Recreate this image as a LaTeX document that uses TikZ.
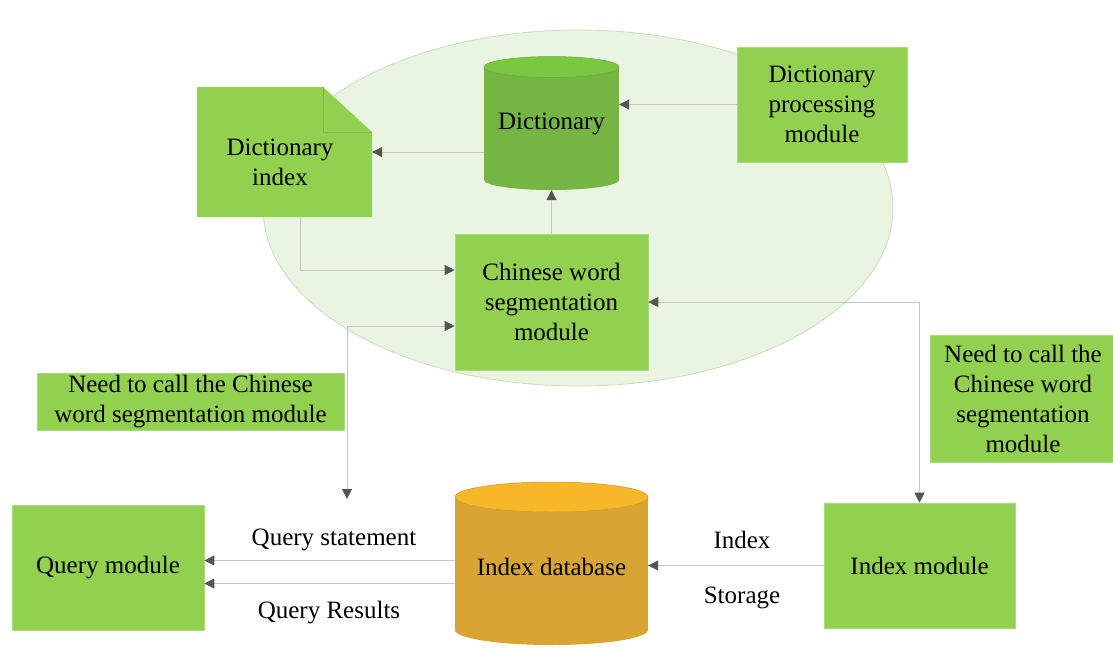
\documentclass[tikz,border=0pt]{standalone}
\usepackage{fontspec}
\setmainfont{Liberation Serif}
\usetikzlibrary{arrows.meta,shapes.geometric,calc}
\definecolor{boxgreen}{HTML}{92D050}
\definecolor{boxedge}{HTML}{A9DB7F}
\definecolor{dictbody}{HTML}{74B544}
\definecolor{dicttop}{HTML}{7CC742}
\definecolor{dictedge}{HTML}{6AA83E}
\definecolor{dbbody}{HTML}{D8A535}
\definecolor{dbtop}{HTML}{F6B828}
\definecolor{dbedge}{HTML}{D09A2A}
\definecolor{ellfill}{HTML}{EAF5E1}
\definecolor{ellborder}{HTML}{C8DEB8}
\definecolor{linegray}{HTML}{C4C4C4}
\definecolor{tipgray}{HTML}{555555}
\definecolor{foldline}{HTML}{7DBB48}
\begin{document}
\begin{tikzpicture}[x=1pt,y=-1pt,
  every node/.style={font=\fontsize{25}{30}\selectfont, align=center, inner sep=0pt},
  greenbox/.style={fill=boxgreen, draw=boxedge, line width=0.6pt},
  conn/.style={draw=linegray, line width=1pt, -{Triangle[length=10pt,width=10pt,color=tipgray]}},
  dconn/.style={draw=linegray, line width=1pt, {Triangle[length=10pt,width=10pt,color=tipgray]}-{Triangle[length=10pt,width=10pt,color=tipgray]}},
  lbl/.style={font=\fontsize{25}{30}\selectfont}
]
\useasboundingbox (0,0) rectangle (1113,648);
\fill[white] (0,0) rectangle (1113,648);

% background zone
\node[ellipse, minimum width=630pt, minimum height=356pt, fill=ellfill, draw=ellborder, line width=0.8pt] (zone) at (578,208) {};

% Dictionary cylinder
\fill[dictbody] (551.5,180) ellipse [x radius=67.5, y radius=10];
\fill[dictbody] (484,67) rectangle (619,180);
\filldraw[fill=dicttop, draw=dictedge, line width=0.5pt] (551.5,67) ellipse [x radius=67.5, y radius=10.5];
\node[minimum width=135pt, minimum height=133pt] (dict) at (551.5,123.5) {Dictionary};

% Dictionary index (folded corner)
\fill[boxgreen] (197,87) -- (323,87) -- (372,132) -- (372,217) -- (197,217) -- cycle;
\draw[foldline, line width=0.6pt] (323,87) -- (323,132) -- (372,132);
\node[minimum width=175pt, minimum height=130pt] (dindex) at (284.5,152) {};
\node at (280,162) (dindextext) {Dictionary\\index};

% Dictionary processing module
\node[greenbox, minimum width=170pt, minimum height=115pt] (dproc) at (822,104.5) {Dictionary\\processing\\module};

% Chinese word segmentation module
\node[greenbox, minimum width=193pt, minimum height=136pt] (cws) at (551.5,302) {Chinese word\\segmentation\\module};

% Labels (green)
\node[greenbox, minimum width=307pt, minimum height=57pt] (needl) at (190.5,401.5) {Need to call the Chinese\\word segmentation module};
\node[greenbox, minimum width=186pt, minimum height=127pt] (needr) at (1023,398.5) {Need to call the\\Chinese word\\segmentation\\module};

% Query module
\node[greenbox, minimum width=192pt, minimum height=125pt] (qmod) at (108,567.5) {Query module};

% Index module
\node[greenbox, minimum width=191pt, minimum height=125pt] (imod) at (919.5,565.5) {Index module};

% Index database cylinder
\fill[dbbody] (551.5,630) ellipse [x radius=96.5, y radius=15];
\fill[dbbody] (455,497) rectangle (648,630);
\filldraw[fill=dbtop, draw=dbedge, line width=0.5pt] (551.5,497) ellipse [x radius=96.5, y radius=15];
\node[minimum width=193pt, minimum height=163pt] (idb) at (551.5,563.5) {};
\node at (551.5,567) (idbtext) {Index database};

% connectors
\draw[conn] (dproc.west) -- (dproc.west -| dict.east);
\draw[conn] (dict.west |- dindex.east) -- (dindex.east);
\draw[conn] (cws.north) -- (dict.south);
\draw[conn] ([xshift=15.5pt]dindex.south) |- ([yshift=32pt]cws.west);
\coordinate (qtop) at (347,499);
\draw[dconn] (qtop) |- ([yshift=-24pt]cws.west);
\draw[dconn] (cws.east) -| (imod.north);

\coordinate (qa) at ([yshift=7pt]qmod.east);
\coordinate (qb) at ([yshift=-16pt]qmod.east);
\draw[conn] (qa -| idb.west) -- (qa);
\draw[conn] (qb -| idb.west) -- (qb);
\draw[conn] (imod.west) -- (imod.west -| idb.east);

% connector labels
\node[lbl] (lqs) at (334,540) {Query statement};
\node[lbl] (lqr) at (329,613) {Query Results};
\node[lbl] (lix) at (742,540) {Index};
\node[lbl] (lst) at (742,598) {Storage};
\end{tikzpicture}
\end{document}
